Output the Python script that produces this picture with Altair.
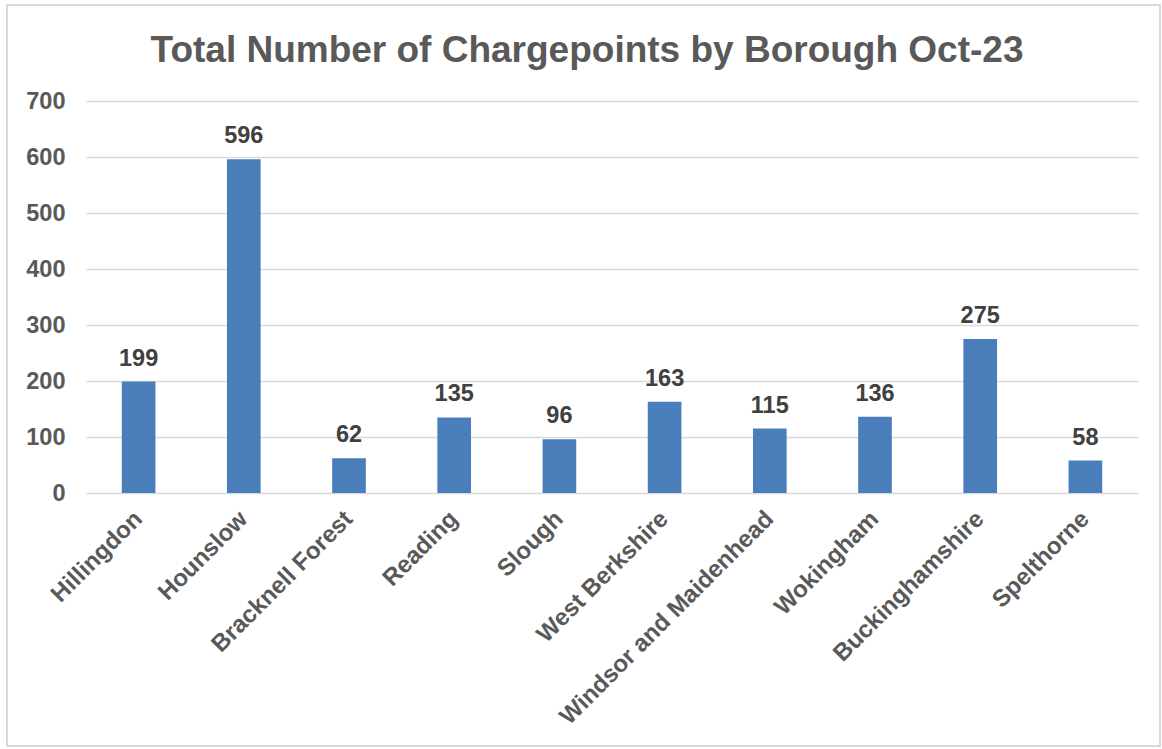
import altair as alt
import pandas as pd

boroughs = ["Hillingdon", "Hounslow", "Bracknell Forest", "Reading", "Slough",
            "West Berkshire", "Windsor and Maidenhead", "Wokingham",
            "Buckinghamshire", "Spelthorne"]
chargepoints = [199, 596, 62, 135, 96, 163, 115, 136, 275, 58]
y_ticks = [0, 100, 200, 300, 400, 500, 600, 700]
title_text = "Total Number of Chargepoints by Borough Oct-23"

df = pd.DataFrame({"Borough": boroughs, "Chargepoints": chargepoints})

FONT = "Liberation Sans"
AXIS_GRAY = "#595959"

x_enc = alt.X("Borough:N", sort=boroughs,
              scale=alt.Scale(paddingInner=0.68, paddingOuter=0.34),
              axis=alt.Axis(title=None, labelAngle=-45, labelFontSize=24,
                            labelFont=FONT, labelFontWeight="bold",
                            labelColor=AXIS_GRAY, ticks=False, domain=False,
                            labelPadding=22, labelAlign="right",
                            labelBaseline="middle", labelLimit=0))
y_enc = alt.Y("Chargepoints:Q",
              scale=alt.Scale(domain=[0, 700], nice=False),
              axis=alt.Axis(title=None, values=y_ticks, labelFontSize=23.5,
                            labelFont=FONT, labelFontWeight="bold",
                            labelColor=AXIS_GRAY, ticks=False, domain=False,
                            labelPadding=21, gridColor="#D9D9D9",
                            gridWidth=1.5))

bars = alt.Chart(df).mark_bar(color="#4A7EBB").encode(x=x_enc, y=y_enc)

labels = alt.Chart(df).mark_text(
    font=FONT, fontSize=23.5, fontWeight="bold", color="#404040",
    baseline="alphabetic", dy=-16
).encode(x=alt.X("Borough:N", sort=boroughs), y="Chargepoints:Q",
         text="Chargepoints:Q")

one = pd.DataFrame({"t": [title_text]})

border = alt.Chart(one).mark_rect(
    filled=False, stroke="#D9D9D9", strokeWidth=2, clip=False
).encode(x=alt.value(-79), x2=alt.value(1074),
         y=alt.value(-96), y2=alt.value(645))

title = alt.Chart(one).mark_text(
    font=FONT, fontSize=37, fontWeight="bold", color=AXIS_GRAY,
    align="center", baseline="alphabetic", clip=False
).encode(x=alt.value(501), y=alt.value(-39), text="t:N")

chart = alt.layer(border, bars, labels, title).properties(
    width=1052, height=392,
    padding={"left": 86, "top": 101, "right": 24, "bottom": 256},
    autosize=alt.AutoSizeParams(type="none"),
    background="white"
).configure_view(stroke=None)

chart.save("out.html", embed_options={"renderer": "svg", "actions": False})
